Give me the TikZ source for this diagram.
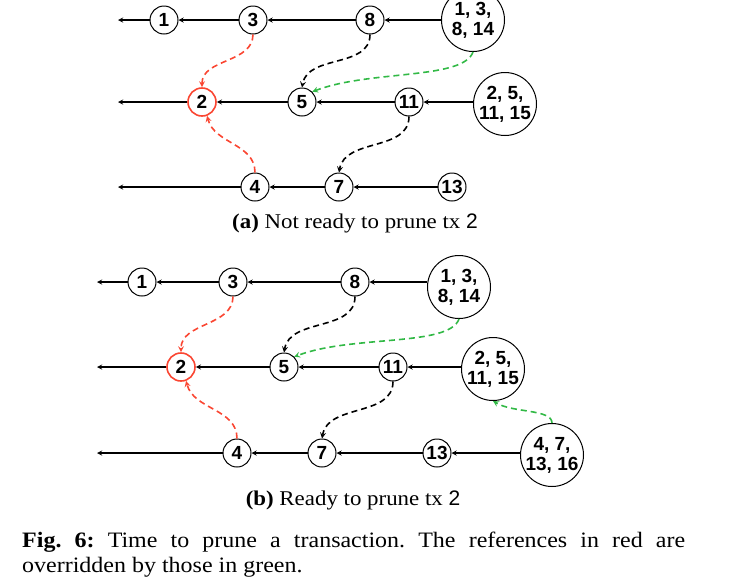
\documentclass[tikz,border=0pt]{standalone}
\usepackage{fontspec}
\setmainfont{Liberation Serif}[FakeStretch=1.09]
\setsansfont{Liberation Sans}
\usetikzlibrary{positioning}
\frenchspacing

\definecolor{refred}{RGB}{250,70,50}
\definecolor{refgreen}{RGB}{50,185,70}

\begin{document}
\begin{tikzpicture}[x=1pt,y=-1pt,
			tx/.style={circle,draw,line width=1pt,inner sep=0pt,minimum size=28pt,
				font=\sffamily\bfseries\fontsize{19}{20}\selectfont},
			batch/.style={tx,minimum size=63pt,inner sep=-4pt,align=center},
			pruned/.style={tx,draw=refred,line width=1.6pt},
			link/.style={->,line width=1.3pt},
			ref/.style={->,line width=1.6pt,dash pattern=on 6pt off 4pt},
			>=stealth]
			\useasboundingbox (0,0) rectangle (752,579);
			
			% (a) three chains, newest on the right
			\node[tx] (a1) at (164,20) {1};
			\node[tx] (a3) at (253,20) {3};
			\node[tx] (a8) at (370,20) {8};
			\node[batch] (aB1) at (473,20) {1, 3,\\8, 14};
			\node[pruned] (a2) at (202,102) {2};
			\node[tx] (a5) at (302,102) {5};
			\node[tx] (a11) at (409,102) {11};
			\node[batch] (aB2) at (505,104) {2, 5,\\11, 15};
			\node[tx] (a4) at (255,187) {4};
			\node[tx] (a7) at (339,187) {7};
			\node[tx] (a13) at (452,187) {13};
			\coordinate (a1end) at (118,20);
			\coordinate (a2end) at (118,102);
			\coordinate (a4end) at (118,187);
			
			\foreach \from/\to in {a1/a1end,a3/a1,a8/a3,aB1/a8,
				a2/a2end,a5/a2,a11/a5,
				a4/a4end,a7/a4,a13/a7}{
				\draw[link] (\from) -- (\to);
			}
			\draw[link] (aB2.west |- a11) -- (a11);
			
			\draw[ref,refred] (a3.south) to[out=-90,in=90] (a2.north);
			\draw[ref,refred] (a4.north) to[out=90,in=-75] (a2.-70);
			\draw[ref] (a8.south) to[out=-90,in=80] (a5.north);
			\draw[ref] (a11.south) to[out=-90,in=80] (a7.north);
			\draw[ref,refgreen] (aB1.south) .. controls +(-10,28) and +(58,-22) .. (a5.45);
			
			\node (capa) at (355,223) {\fontsize{21}{24}\selectfont\textbf{(a)} Not ready to prune tx \textsf{2}};
			
			% (b) one more batch on the bottom chain
			\node[tx] (b1) at (142,282) {1};
			\node[tx] (b3) at (233,282) {3};
			\node[tx] (b8) at (355,282) {8};
			\node[batch] (bB1) at (459,287) {1, 3,\\8, 14};
			\node[pruned] (b2) at (181,367) {2};
			\node[tx] (b5) at (284,367) {5};
			\node[tx] (b11) at (393,367) {11};
			\node[batch] (bB2) at (493,369) {2, 5,\\11, 15};
			\node[tx] (b4) at (237,453) {4};
			\node[tx] (b7) at (322,453) {7};
			\node[tx] (b13) at (437,453) {13};
			\node[batch] (bB3) at (552,455) {4, 7,\\13, 16};
			\coordinate (b1end) at (97,282);
			\coordinate (b2end) at (97,367);
			\coordinate (b4end) at (97,453);
			
			\foreach \from/\to in {b1/b1end,b3/b1,b8/b3,
				b2/b2end,b5/b2,b11/b5,
				b4/b4end,b7/b4,b13/b7}{
				\draw[link] (\from) -- (\to);
			}
			\draw[link] (bB1.west |- b8) -- (b8);
			\draw[link] (bB2.west |- b11) -- (b11);
			\draw[link] (bB3.west |- b13) -- (b13);
			
			\draw[ref,refred] (b3.south) to[out=-90,in=90] (b2.north);
			\draw[ref,refred] (b4.north) to[out=90,in=-75] (b2.-70);
			\draw[ref] (b8.south) to[out=-90,in=80] (b5.north);
			\draw[ref] (b11.south) to[out=-90,in=80] (b7.north);
			\draw[ref,refgreen] (bB1.south) .. controls +(-10,28) and +(58,-22) .. (b5.45);
			\draw[ref,refgreen] (bB3.north) .. controls +(0,-14) and +(20,12) .. (bB2.-90);
			
			\node (capb) at (353,500) {\fontsize{21}{24}\selectfont\textbf{(b)} Ready to prune tx \textsf{2}};
			
			% figure caption
			\node[anchor=north west,inner sep=0pt,text width=663pt,align=justify,
				font=\fontsize{22}{25}\selectfont] (fig) at (22,532)
				{\textbf{Fig. 6:} Time to prune a transaction. The references in red are \mbox{overridden} by those in green.};
		\end{tikzpicture}
\end{document}
